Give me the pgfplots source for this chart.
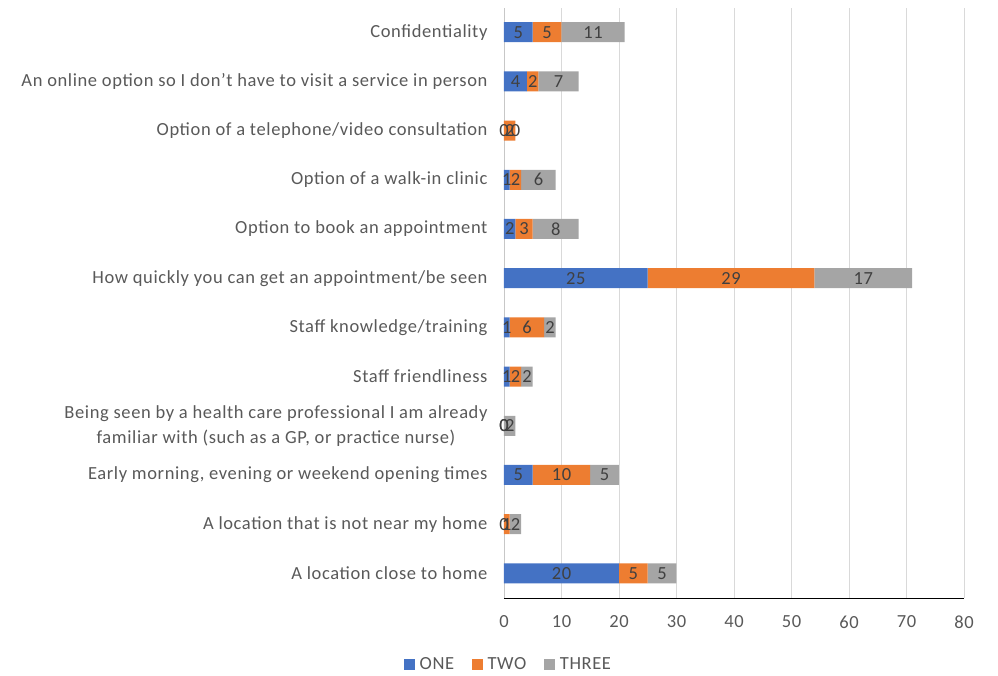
\documentclass[border=0pt]{standalone}
\usepackage{pgfplots}
\pgfplotsset{compat=1.18}
\usepackage{pgfplotstable}
\usepackage{fontspec}
\setmainfont{Carlito}[LetterSpace=3.3]
\definecolor{cone}{HTML}{4472C4}
\definecolor{ctwo}{HTML}{ED7D31}
\definecolor{cthree}{HTML}{A5A5A5}
\definecolor{txt}{HTML}{595959}
\definecolor{lbl}{HTML}{404040}
\definecolor{grd}{HTML}{D9D9D9}
\pgfplotstableread{
idx one two three
0 20 5 5
1 0 1 2
2 5 10 5
3 0 0 2
4 1 2 2
5 1 6 2
6 25 29 17
7 2 3 8
8 1 2 6
9 0 2 0
10 4 2 7
11 5 5 11
}\data
\newcommand{\fs}{\fontsize{18.5}{25}\selectfont}
\pgfplotsset{common/.style={
  at={(0,0)}, anchor=south west,
  x=5.75pt, y=49.2pt,
  xmin=0, xmax=80, ymin=-0.5, ymax=11.5,
  /pgf/number format/assume math mode=true,
}}
\begin{document}
\begin{tikzpicture}
\begin{axis}[
  common,
  xbar stacked, bar width=20pt,
  xtick={0,10,...,80},
  ytick={0,...,11},
  yticklabels={A location close to home,A location that is not near my home,{Early morning, evening or weekend opening times},{Being seen by a health care professional I am already\\familiar with (such as a GP, or practice nurse)},Staff friendliness,Staff knowledge/training,How quickly you can get an appointment/be seen,Option to book an appointment,Option of a walk-in clinic,Option of a telephone/video consultation,An online option so I don’t have to visit a service in person,Confidentiality},
  axis x line=none,
  hide x axis=false,
  axis y line=left, y axis line style={draw=grd!80!gray, -},
  major tick length=0pt,
  xmajorgrids, grid style={grd, line width=0.8pt},
  tick label style={font=\fs, text=txt},
  yticklabel style={align=center, xshift=-13pt},
  xticklabel style={yshift=-14pt},
  legend style={at={(0.01,-0.113)}, anchor=center, draw=none, legend columns=-1, font=\fs, text=txt, /tikz/every odd column/.append style={column sep=3pt}, /tikz/every even column/.append style={column sep=16pt}},
  legend image code/.code={\fill[#1] (0pt,-5pt) rectangle (10.5pt,5.5pt);},
]
\addplot[fill=cone, draw=none] table[x=one, y=idx] {\data};
\addplot[fill=ctwo, draw=none] table[x=two, y=idx] {\data};
\addplot[fill=cthree, draw=none] table[x=three, y=idx] {\data};
\legend{ONE,TWO,THREE}
\end{axis}
\begin{axis}[
  common,
  hide axis,
  nodes near coords,
  point meta=explicit,
  every node near coord/.append style={font=\fs, text=lbl, anchor=center},
]
\addplot[only marks, mark=none] table[x expr=\thisrow{one}/2, y=idx, meta=one] {\data};
\addplot[only marks, mark=none] table[x expr=\thisrow{one}+\thisrow{two}/2, y=idx, meta=two] {\data};
\addplot[only marks, mark=none] table[x expr=\thisrow{one}+\thisrow{two}+\thisrow{three}/2, y=idx, meta=three] {\data};
\end{axis}
\pgfresetboundingbox
\path (-504pt,-78pt) rectangle (494pt,598pt);
\end{tikzpicture}
\end{document}
